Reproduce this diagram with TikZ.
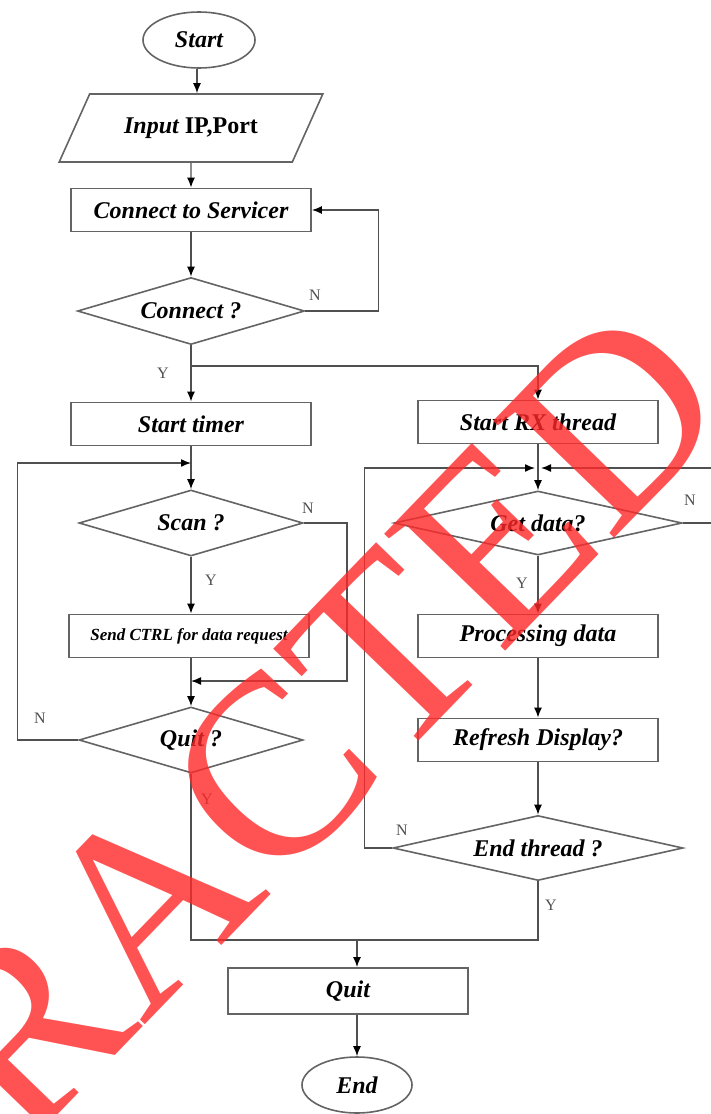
\documentclass[tikz,border=0pt]{standalone}
\usepackage{fontspec}
\setmainfont{Liberation Serif}
\usetikzlibrary{shapes.geometric,arrows.meta}
\definecolor{linegray}{RGB}{80,80,80}
\definecolor{boxgray}{RGB}{100,100,100}
\definecolor{stampred}{RGB}{255,40,40}
\begin{document}
\begin{tikzpicture}
    [x=1pt,y=-1pt,
     every node/.style={font=\fontsize{24}{26}\selectfont\bfseries\itshape},
     term/.style={ellipse,draw=boxgray,line width=1.6pt,minimum width=112,minimum height=56,inner sep=0},
     inout/.style={trapezium,trapezium left angle=46,trapezium right angle=134,trapezium stretches=true,
                   draw=boxgray,line width=1.6pt,minimum width=264,minimum height=68,inner sep=0},
     proc/.style={rectangle,draw=boxgray,line width=1.8pt,minimum width=240,minimum height=43,inner sep=0},
     test/.style={diamond,aspect=3.5,draw=boxgray,line width=1.6pt,inner sep=0},
     yn/.style={font=\fontsize{16}{16}\selectfont,text=linegray},
     line/.style={draw=linegray,line width=1.4pt},
     arr/.style={line,-{Latex[length=10pt,width=8pt,color=black]}},
     stamp/.style={font=\fontsize{257}{257}\selectfont,text=stampred,text opacity=0.8,inner sep=0}]
    \clip (0,0) rectangle (711,1114);

    % left column
    \node[term] (start) at (199,40) {Start};
    \node[inout] (input) at (191,128) {Input \upshape IP,Port};
    \node[proc] (conn) at (191,210) {Connect to Servicer};
    \node[test,minimum width=227,minimum height=67] (connq) at (191,311) {Connect ?};
    \node[proc] (timer) at (191,424) {Start timer};
    \node[test,minimum width=224,minimum height=66] (scan) at (191,523) {Scan ?};
    \node[proc,font=\fontsize{17}{19}\selectfont\bfseries\itshape] (send) at (189,636) {Send CTRL for data request};
    \node[test,minimum width=224,minimum height=66] (quitq) at (191,740) {Quit ?};

    % right column
    \node[proc] (rx) at (538,422) {Start RX thread};
    \node[test,minimum width=288,minimum height=64] (getq) at (538,523) {Get data?};
    \node[proc] (work) at (538,636) {Processing data};
    \node[proc] (refresh) at (538,740) {Refresh Display?};
    \node[test,minimum width=290,minimum height=65] (endq) at (538,848) {End thread ?};

    % bottom
    \node[proc,minimum height=46] (quit) at (348,991) {Quit};
    \node[term,minimum width=110] (end) at (357,1085) {End};

    \coordinate (fork) at (191,366);
    \coordinate (loopl) at (191,463);
    \coordinate (mergel) at (191,681);
    \coordinate (loopr) at (538,468);
    \coordinate (join) at (357,940);

    \draw[arr] (start.south -| 197,0) -- (input.north -| 197,0);
    \draw[arr] (input) -- (conn);
    \draw[arr] (conn) -- (connq);
    \draw[arr] (connq.east) -- ++(73,0) |- (conn.east);
    \draw[arr] (connq.south) -- (fork) -| (rx.north);
    \draw[arr] (fork) -- (timer.north);
    \draw[arr] (timer) -- (scan);
    \draw[arr] (quitq.west) -- ++(-61,0) |- (loopl);
    \draw[arr] (scan) -- (send.north -| scan);
    \draw[arr] (scan.east) -- ++(43,0) |- (mergel);
    \draw[arr] (send.south -| quitq) -- (quitq);
    \draw[line] (quitq.south) |- (join);
    \draw[line] (endq.south) |- (join);
    \draw[arr] (join) -- (join |- quit.north);
    \draw[arr] (quit.south -| end) -- (end);

    \draw[arr] (rx) -- (getq);
    \draw[arr] (endq.west) -- ++(-28,0) |- ([xshift=-3]loopr);
    \draw[arr] (getq.east) -- ++(30,0) |- ([xshift=3]loopr);
    \draw[arr] (getq) -- (work);
    \draw[arr] (work) -- (refresh);
    \draw[arr] (refresh) -- (endq);

    \node[yn] at (315,295) {N};
    \node[yn] at (163,373) {Y};
    \node[yn] at (308,508) {N};
    \node[yn] at (211,580) {Y};
    \node[yn] at (40,718) {N};
    \node[yn] at (207,799) {Y};
    \node[yn] at (690,500) {N};
    \node[yn] at (522,583) {Y};
    \node[yn] at (402,830) {N};
    \node[yn] at (551,905) {Y};

    \node[stamp,rotate=46,anchor=base west] (redact) at (24,1150) {RACTED};
\end{tikzpicture}
\end{document}
